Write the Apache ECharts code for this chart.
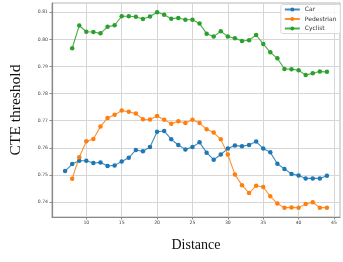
<!DOCTYPE html>
<html><head><meta charset="utf-8">
<script src="https://cdn.jsdelivr.net/npm/echarts@6/dist/echarts.min.js"></script>
<style>html,body{margin:0;padding:0;background:#fff}#c{width:343px;height:262px}</style>
</head><body><div id="c"></div>
<script>
const carX = [7,8,9,10,11,12,13,14,15,16,17,18,19,20,21,22,23,24,25,26,27,28,29,30,31,32,33,34,35,36,37,38,39,40,41,42,43,44];
const carY = [0.7514,0.7540,0.7552,0.7552,0.7544,0.7546,0.7533,0.7535,0.7549,0.7563,0.7592,0.7587,0.7603,0.7659,0.7662,0.7631,0.7610,0.7594,0.7603,0.7620,0.7582,0.7556,0.7575,0.7597,0.7608,0.7606,0.7610,0.7623,0.7597,0.7583,0.7541,0.7522,0.7503,0.7498,0.7487,0.7487,0.7487,0.7497];
const pedX = [8,9,10,11,12,13,14,15,16,17,18,19,20,21,22,23,24,25,26,27,28,29,30,31,32,33,34,35,36,37,38,39,40,41,42,43,44];
const pedY = [0.7486,0.7565,0.7624,0.7632,0.7678,0.7710,0.7722,0.7737,0.7733,0.7726,0.7705,0.7704,0.7717,0.7703,0.7689,0.7698,0.7691,0.7703,0.7691,0.7668,0.7656,0.7631,0.7575,0.7501,0.7462,0.7433,0.7460,0.7455,0.7421,0.7394,0.7379,0.7380,0.7379,0.7393,0.7399,0.7379,0.7379];
const cycX = [8,9,10,11,12,13,14,15,16,17,18,19,20,21,22,23,24,25,26,27,28,29,30,31,32,33,34,35,36,37,38,39,40,41,42,43,44];
const cycY = [0.7967,0.8051,0.8028,0.8027,0.8022,0.8046,0.8052,0.8085,0.8085,0.8083,0.8075,0.8084,0.8100,0.8091,0.8076,0.8079,0.8072,0.8072,0.8058,0.8021,0.8010,0.8030,0.8010,0.8004,0.7994,0.7997,0.8016,0.7983,0.7952,0.7930,0.7891,0.7890,0.7886,0.7868,0.7875,0.7881,0.7880];
const xTicks = [10,15,20,25,30,35,40,45];
const yTicks = [0.74,0.75,0.76,0.77,0.78,0.79,0.80,0.81];
const names = ['Car','Pedestrian','Cyclist'];
const colors = ['#1f77b4','#ff7f0e','#2ca02c'];

const zip = (xs, ys) => xs.map((x,i)=>[x, ys[i]]);
const chart = echarts.init(document.getElementById('c'), null, {renderer:'canvas'});
const mkSeries = (name, data, color) => ({
  name, type:'line', data, symbol:'circle', symbolSize:4.5,
  itemStyle:{color}, lineStyle:{color, width:1.1, opacity:0.85}, animation:false
});
chart.setOption({
  animation:false,
  grid:{left:52, right:3, top:3, bottom:45, show:true, borderColor:'#b5b5b5', borderWidth:1},
  legend:{
    orient:'vertical', right:2.5, top:4.5, data:names,
    itemWidth:15, itemHeight:5, itemGap:3.5,
    textStyle:{fontSize:6, color:'#333', fontFamily:'DejaVu Sans'},
    borderColor:'#d8d8d8', borderWidth:1, borderRadius:2,
    padding:[2,4,2,3], backgroundColor:'rgba(255,255,255,0.8)'
  },
  xAxis:{
    type:'value', min:5.15, max:45.85,
    name:'Distance', nameLocation:'middle', nameGap:21,
    nameTextStyle:{fontFamily:'Liberation Serif', fontSize:14, color:'#111'},
    axisLine:{show:true, lineStyle:{color:'#888', width:1.2}},
    axisTick:{show:true, length:2.5, customValues:xTicks, lineStyle:{color:'#888'}},
    axisLabel:{customValues:xTicks, fontSize:4.6, color:'#444', margin:3.5, fontFamily:'DejaVu Sans'},
    splitLine:{show:true, lineStyle:{color:'#d6d6d6', width:1}}
  },
  yAxis:{
    type:'value', min:0.73446, max:0.8134,
    name:'CTE threshold', nameLocation:'middle', nameGap:28,
    nameTextStyle:{fontFamily:'Liberation Serif', fontSize:15.5, color:'#111'},
    axisLine:{show:true, lineStyle:{color:'#888', width:1.2}},
    axisTick:{show:true, length:2.5, customValues:yTicks, lineStyle:{color:'#888'}},
    axisLabel:{customValues:yTicks, fontSize:4.6, color:'#444', margin:4, fontFamily:'DejaVu Sans',
      formatter:v=>v.toFixed(2)},
    splitLine:{show:true, lineStyle:{color:'#d6d6d6', width:1}}
  },
  series:[
    mkSeries(names[0], zip(carX, carY), colors[0]),
    mkSeries(names[1], zip(pedX, pedY), colors[1]),
    mkSeries(names[2], zip(cycX, cycY), colors[2])
  ]
});
</script></body></html>
